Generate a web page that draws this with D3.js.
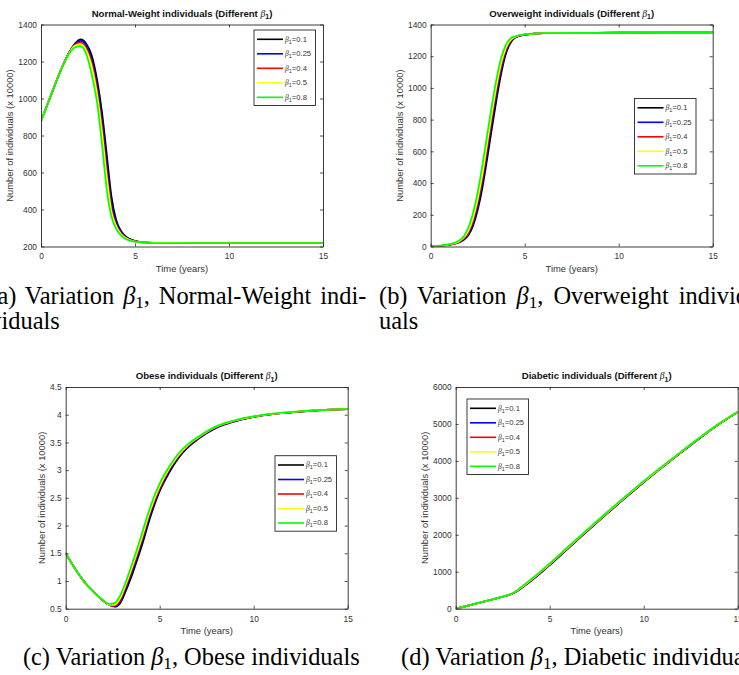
<!DOCTYPE html>
<html>
<head>
<meta charset="utf-8">
<title>Variation of beta1</title>
<script src="https://d3js.org/d3.v7.min.js"></script>
<style>
  body { margin: 0; background: #fff; }
  svg { display: block; }
  .tick text { font-family: "Liberation Sans", Arial, sans-serif; font-size: 8.4px; fill: #333; }
  .tick line { stroke: #262626; stroke-width: 0.8; }
  .domain { stroke: #262626; stroke-width: 0.9; }
  .title { font-family: "Liberation Sans", Arial, sans-serif; font-size: 9.6px; font-weight: bold; fill: #111; text-anchor: middle; }
  .label { font-family: "Liberation Sans", Arial, sans-serif; font-size: 9.4px; fill: #333; text-anchor: middle; }
  .greek { font-family: "Liberation Serif", serif; font-style: italic; font-weight: normal; }
  .curve { fill: none; stroke-width: 1.7; }
  .legend rect { fill: #fff; stroke: #262626; stroke-width: 0.9; }
  .legend line { stroke-width: 1.6; }
  .legend text { font-family: "Liberation Sans", Arial, sans-serif; font-size: 7.6px; fill: #333; }
  .caption { font-family: "Liberation Serif", "Times New Roman", serif; fill: #000; }
</style>
</head>
<body>
<svg width="739" height="675"></svg>
<script>
var betaLabels = ["0.1", "0.25", "0.4", "0.5", "0.8"];
var lineColors = ["#000000", "#0000ff", "#ff0000", "#ffff00", "#00ff00"];
var xTicks = [0, 5, 10, 15];

// (a) normal-weight
var normalTicks = [200, 400, 600, 800, 1000, 1200, 1400];
var normalTime = [0, 0.5, 1, 1.5, 1.8, 2.1, 2.4, 2.7, 3, 3.25, 3.5, 3.75, 4, 4.25, 4.5, 5, 5.5, 6, 8, 15];
var normalB01 = [878, 1010, 1140, 1250, 1296, 1320, 1298, 1232, 1092, 922, 696, 469, 344, 285, 255, 230, 223, 220, 219, 219];
var normalB025 = [878, 1010, 1140, 1249, 1292, 1311, 1285, 1210, 1062, 880, 648, 430, 330, 280, 252, 229, 222, 220, 219, 219];
var normalB04 = [878, 1010, 1140, 1248, 1289, 1302, 1272, 1188, 1030, 837, 600, 402, 315, 272, 248, 228, 222, 220, 219, 219];
var normalB05 = [878, 1010, 1139, 1246, 1285, 1294, 1262, 1172, 1010, 810, 572, 385, 310, 268, 246, 227, 222, 220, 219, 219];
var normalB08 = [878, 1009, 1138, 1243, 1276, 1283, 1242, 1128, 965, 745, 505, 360, 295, 260, 241, 226, 221, 219, 218, 218];

// (b) overweight
var overTicks = [0, 200, 400, 600, 800, 1000, 1200, 1400];
var overTime = [0, 0.5, 1, 1.5, 1.75, 2, 2.25, 2.5, 2.75, 3, 3.25, 3.5, 3.75, 4, 4.25, 4.5, 5, 5.5, 6, 8, 10, 15];
var overB01 = [0, 3, 10, 25, 40, 70, 130, 230, 370, 550, 740, 925, 1090, 1215, 1285, 1318, 1335, 1342, 1345, 1347, 1349, 1350];
var overB025 = [0, 3, 11, 28, 45, 78, 145, 255, 400, 585, 778, 960, 1115, 1228, 1292, 1320, 1336, 1342, 1345, 1347, 1349, 1350];
var overB04 = [0, 4, 12, 30, 50, 88, 162, 280, 432, 622, 814, 992, 1140, 1242, 1298, 1322, 1337, 1342, 1345, 1347, 1349, 1350];
var overB05 = [0, 4, 13, 32, 55, 98, 178, 300, 458, 650, 840, 1015, 1158, 1252, 1302, 1323, 1337, 1343, 1345, 1347, 1349, 1350];
var overB08 = [0, 6, 15, 37, 63, 118, 210, 342, 514, 702, 888, 1057, 1190, 1271, 1313, 1326, 1338, 1343, 1345, 1347, 1349, 1350];

// (c) obese
var obeseTicks = [0.5, 1, 1.5, 2, 2.5, 3, 3.5, 4, 4.5];
var obeseTime = [0, 0.5, 1, 1.5, 2, 2.3, 2.6, 2.9, 3.2, 3.5, 3.75, 4, 4.5, 5, 5.5, 6, 6.5, 7, 8, 9, 10, 11, 12, 13, 15];
var obeseB01 = [1.5, 1.22, 0.98, 0.8, 0.64, 0.57, 0.535, 0.6, 0.82, 1.08, 1.33, 1.58, 2.15, 2.62, 2.95, 3.22, 3.41, 3.55, 3.76, 3.88, 3.96, 4.01, 4.04, 4.07, 4.1];
var obeseB025 = [1.5, 1.22, 0.98, 0.8, 0.64, 0.57, 0.54, 0.63, 0.87, 1.13, 1.38, 1.64, 2.2, 2.65, 2.98, 3.24, 3.43, 3.56, 3.77, 3.885, 3.962, 4.012, 4.042, 4.071, 4.1];
var obeseB04 = [1.5, 1.22, 0.98, 0.8, 0.645, 0.572, 0.55, 0.66, 0.91, 1.18, 1.43, 1.69, 2.25, 2.68, 3.01, 3.26, 3.44, 3.57, 3.78, 3.89, 3.965, 4.014, 4.044, 4.072, 4.1];
var obeseB05 = [1.5, 1.22, 0.98, 0.8, 0.647, 0.575, 0.57, 0.69, 0.94, 1.22, 1.47, 1.73, 2.28, 2.71, 3.03, 3.27, 3.45, 3.58, 3.785, 3.895, 3.967, 4.016, 4.046, 4.073, 4.1];
var obeseB08 = [1.5, 1.22, 0.98, 0.8, 0.65, 0.585, 0.6, 0.74, 0.99, 1.28, 1.53, 1.8, 2.34, 2.76, 3.06, 3.3, 3.47, 3.59, 3.79, 3.9, 3.97, 4.02, 4.05, 4.075, 4.1];

// (d) diabetic
var diabTicks = [0, 1000, 2000, 3000, 4000, 5000, 6000];
var diabTime = [0, 0.5, 1, 1.5, 2, 2.5, 3, 3.25, 3.5, 4, 4.5, 5, 6, 7, 8, 9, 10, 11, 12, 13, 14, 15];
var diabB01 = [0, 62, 128, 192, 255, 322, 405, 470, 560, 750, 960, 1180, 1640, 2100, 2550, 2990, 3420, 3830, 4230, 4620, 4990, 5320];
var diabB025 = [0, 62, 128, 192, 256, 323, 407, 475, 567, 758, 970, 1190, 1650, 2110, 2560, 3000, 3428, 3837, 4236, 4625, 4994, 5323];
var diabB04 = [0, 62, 128, 192, 257, 324, 409, 479, 574, 767, 980, 1200, 1660, 2118, 2568, 3007, 3434, 3843, 4241, 4629, 4997, 5326];
var diabB05 = [0, 62, 128, 193, 258, 325, 410, 482, 580, 775, 990, 1208, 1668, 2125, 2575, 3013, 3440, 3848, 4245, 4632, 5000, 5328];
var diabB08 = [0, 62, 129, 194, 260, 328, 414, 490, 592, 790, 1005, 1225, 1685, 2140, 2590, 3026, 3452, 3858, 4253, 4640, 5006, 5332];

var panels = [
  {key: "a", title: "Normal-Weight individuals", caption: ["(a) Variation ", ", Normal-Weight indi-"], line2: "viduals",
   left: 41, right: 323, top: 24.5, bottom: 246.5, yDomain: [200, 1400], yTicks: normalTicks,
   time: normalTime, series: [normalB01, normalB025, normalB04, normalB05, normalB08], legend: [254, 30]},
  {key: "b", title: "Overweight individuals", caption: ["(b) Variation ", ", Overweight individ-"], line2: "uals",
   left: 430.7, right: 712.7, top: 24.5, bottom: 246.5, yDomain: [0, 1400], yTicks: overTicks,
   time: overTime, series: [overB01, overB025, overB04, overB05, overB08], legend: [634.5, 98.5]},
  {key: "c", title: "Obese individuals", caption: ["(c) Variation ", ", Obese individuals"],
   left: 65.7, right: 347.7, top: 387, bottom: 608.7, yDomain: [0.5, 4.5], yTicks: obeseTicks,
   time: obeseTime, series: [obeseB01, obeseB025, obeseB04, obeseB05, obeseB08], legend: [275, 455.7]},
  {key: "d", title: "Diabetic individuals", caption: ["(d) Variation ", ", Diabetic individuals"],
   left: 455.7, right: 737.7, top: 387, bottom: 608.7, yDomain: [0, 6000], yTicks: diabTicks,
   time: diabTime, series: [diabB01, diabB025, diabB04, diabB05, diabB08], legend: [467, 399]}
];

var svg = d3.select("svg");

function betaText(sel, before, after, subSize, subShift) {
  sel.append("tspan").text(before);
  sel.append("tspan").attr("class", "greek").text("\u03b2");
  sel.append("tspan").attr("font-size", subSize).attr("dy", subShift).text("1");
  sel.append("tspan").attr("dy", -subShift).text(after);
}

panels.forEach(function(p) {
  var x = d3.scaleLinear().domain([0, 15]).range([p.left, p.right]);
  var y = d3.scaleLinear().domain(p.yDomain).range([p.bottom, p.top]);
  var g = svg.append("g").attr("class", "panel-" + p.key);

  g.append("clipPath").attr("id", "clip-" + p.key)
    .append("rect")
    .attr("x", p.left).attr("y", p.top)
    .attr("width", p.right - p.left).attr("height", p.bottom - p.top);

  var lineGenerator = d3.line()
    .x(function(d, i) { return x(p.time[i]); })
    .y(function(d) { return y(d); })
    .curve(d3.curveMonotoneX);

  g.append("g").attr("clip-path", "url(#clip-" + p.key + ")")
    .selectAll("path.curve")
    .data(p.series)
    .enter()
    .append("path")
    .classed("curve", true)
    .attr("stroke", function(d, i) { return lineColors[i]; })
    .attr("d", lineGenerator);

  g.append("g").attr("transform", "translate(0," + p.bottom + ")")
    .call(d3.axisBottom(x).tickValues(xTicks).tickSize(-3).tickSizeOuter(0).tickPadding(7).tickFormat(function(d) { return d; }));
  g.append("g").attr("transform", "translate(0," + p.top + ")")
    .call(d3.axisTop(x).tickValues(xTicks).tickSize(-3).tickSizeOuter(0).tickFormat(""));
  var yAxis = g.append("g").attr("transform", "translate(" + p.left + ",0)")
    .call(d3.axisLeft(y).tickValues(p.yTicks).tickSize(-3).tickSizeOuter(0).tickPadding(4).tickFormat(function(d) { return d; }));
  g.append("g").attr("transform", "translate(" + p.right + ",0)")
    .call(d3.axisRight(y).tickValues(p.yTicks).tickSize(-3).tickSizeOuter(0).tickFormat(""));

  var tickWidth = d3.max(yAxis.selectAll("text").nodes(), function(n) { return n.getComputedTextLength(); });

  // title
  var title = g.append("text").attr("class", "title")
    .attr("x", (p.left + p.right) / 2).attr("y", p.top - 8);
  betaText(title, p.title + " (Different ", ")", 7, 2.5);

  // axis labels
  g.append("text").attr("class", "label")
    .attr("x", (p.left + p.right) / 2).attr("y", p.bottom + 25)
    .text("Time (years)");
  var lx = p.left - 4 - tickWidth - 9 + 3.5;
  var ly = (p.top + p.bottom) / 2;
  g.append("text").attr("class", "label")
    .attr("transform", "translate(" + lx + "," + ly + ") rotate(-90)")
    .text("Number of individuals (x 10000)");

  // legend
  var lg = g.append("g").attr("class", "legend")
    .attr("transform", "translate(" + p.legend[0] + "," + p.legend[1] + ")");
  lg.append("rect").attr("width", 61.5).attr("height", 75.5);
  betaLabels.forEach(function(b, i) {
    var yy = 9.3 + i * 14.5;
    lg.append("line").attr("x1", 3).attr("x2", 29).attr("y1", yy).attr("y2", yy)
      .attr("stroke", lineColors[i]);
    var t = lg.append("text").attr("x", 31).attr("y", yy + 2.2);
    betaText(t, "", "=" + b, 5.5, 2);
  });
});

// captions
var capFont = 16;
var probe = svg.append("text").attr("class", "caption").attr("font-size", capFont);
betaText(probe, panels[2].caption[0], panels[2].caption[1], capFont * 0.7, 3);
capFont = capFont * 337 / probe.node().getComputedTextLength();
probe.remove();

var colStep = 389.7;
panels.forEach(function(p, k) {
  var col = k % 2;
  if (p.line2) {
    var t1 = svg.append("text").attr("class", "caption").attr("font-size", capFont)
      .attr("x", -10.7 + col * colStep).attr("y", 304);
    betaText(t1, p.caption[0], p.caption[1], capFont * 0.7, capFont * 0.18);
    var natural = t1.node().getComputedTextLength();
    var spaces = (p.caption[0] + p.caption[1]).split(" ").length - 1;
    t1.attr("word-spacing", (377 - natural) / spaces);
    svg.append("text").attr("class", "caption").attr("font-size", capFont)
      .attr("x", -10.7 + col * colStep).attr("y", 328.5)
      .text(p.line2);
  } else {
    var t2 = svg.append("text").attr("class", "caption").attr("font-size", capFont)
      .attr("text-anchor", "middle")
      .attr("x", 191.3 + col * colStep).attr("y", 665);
    betaText(t2, p.caption[0], p.caption[1], capFont * 0.7, capFont * 0.18);
  }
});
</script>
</body>
</html>
